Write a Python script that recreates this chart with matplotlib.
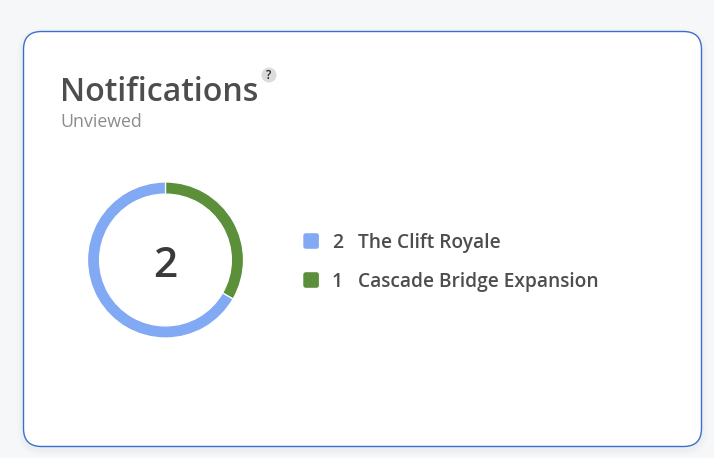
import matplotlib
matplotlib.use('Agg')
from matplotlib import pyplot as plt
from matplotlib.patches import FancyBboxPatch, Circle

names = ['Cascade Bridge Expansion', 'The Clift Royale']
counts = [1, 2]
colors = ['#5b8f39', '#82a9f4']
# legend goes the other way round from the slices
legend_order = [1, 0]
total_label = '2'
title = 'Notifications'
subtitle = 'Unviewed'

W, H = 714, 458
plt.rcParams['font.family'] = ['Open Sans', 'DejaVu Sans']

fig = plt.figure(figsize=(W / 100, H / 100), dpi=100, facecolor='#f6f7f9')

# pixel coordinates, y going down, same as the screenshot
bg = fig.add_axes([0, 0, 1, 1])
bg.set_xlim(0, W)
bg.set_ylim(H, 0)
bg.axis('off')

# soft shadow under the card
for i, a in enumerate([0.012, 0.012, 0.012]):
    grow = 6 - i * 2
    bg.add_patch(FancyBboxPatch((23.5 - grow, 32 - grow + 3), 678 + 2 * grow, 414 + 2 * grow,
                                boxstyle='round,pad=0,rounding_size=%d' % (18 + grow),
                                fc='#000000', ec='none', alpha=a))
bg.add_patch(FancyBboxPatch((23.5, 31.5), 678, 415, boxstyle='round,pad=0,rounding_size=18',
                            fc='white', ec='#3a70d0', lw=1.0))

bg.text(60, 101, title, fontsize=23.1, fontweight=600, color='#4d4d4d', va='baseline', ha='left')
bg.text(60.5, 126.7, subtitle, fontsize=12.8, color='#8c8c8c', va='baseline', ha='left')

bg.add_patch(Circle((269, 75), 7.5, fc='#dcdcdc', ec='none'))
bg.text(269, 79, '?', fontsize=8.5, fontweight=600, color='#222222', va='baseline', ha='center')

# legend rows
row_y = [241, 280]
for y, idx in zip(row_y, legend_order):
    bg.add_patch(FancyBboxPatch((303.3, y - 7.8), 15.6, 15.6, boxstyle='round,pad=0,rounding_size=2.5',
                                fc=colors[idx], ec='none'))
    bg.text(332, y + 6.8, str(counts[idx]), fontsize=13.9, fontweight=600, color='#4d4d4d', va='baseline', ha='left')
    bg.text(358.5, y + 6.8, names[idx], fontsize=13.8, fontweight=600, color='#4d4d4d', va='baseline', ha='left')

# donut
cx, cy, r = 165.5, 260, 78
ax = fig.add_axes([(cx - r) / W, 1 - (cy + r) / H, 2 * r / W, 2 * r / H])
ax.pie(counts, colors=colors, startangle=90, counterclock=False, radius=1.0,
       wedgeprops=dict(width=0.155, edgecolor='white', linewidth=0.9))
ax.set_xlim(-1, 1)
ax.set_ylim(-1, 1)
ax.text(0, -0.222, total_label, fontsize=30.5, fontweight=600, color='#3a3a3a', ha='center', va='baseline')

fig.savefig('out.png', dpi=100, facecolor=fig.get_facecolor())
